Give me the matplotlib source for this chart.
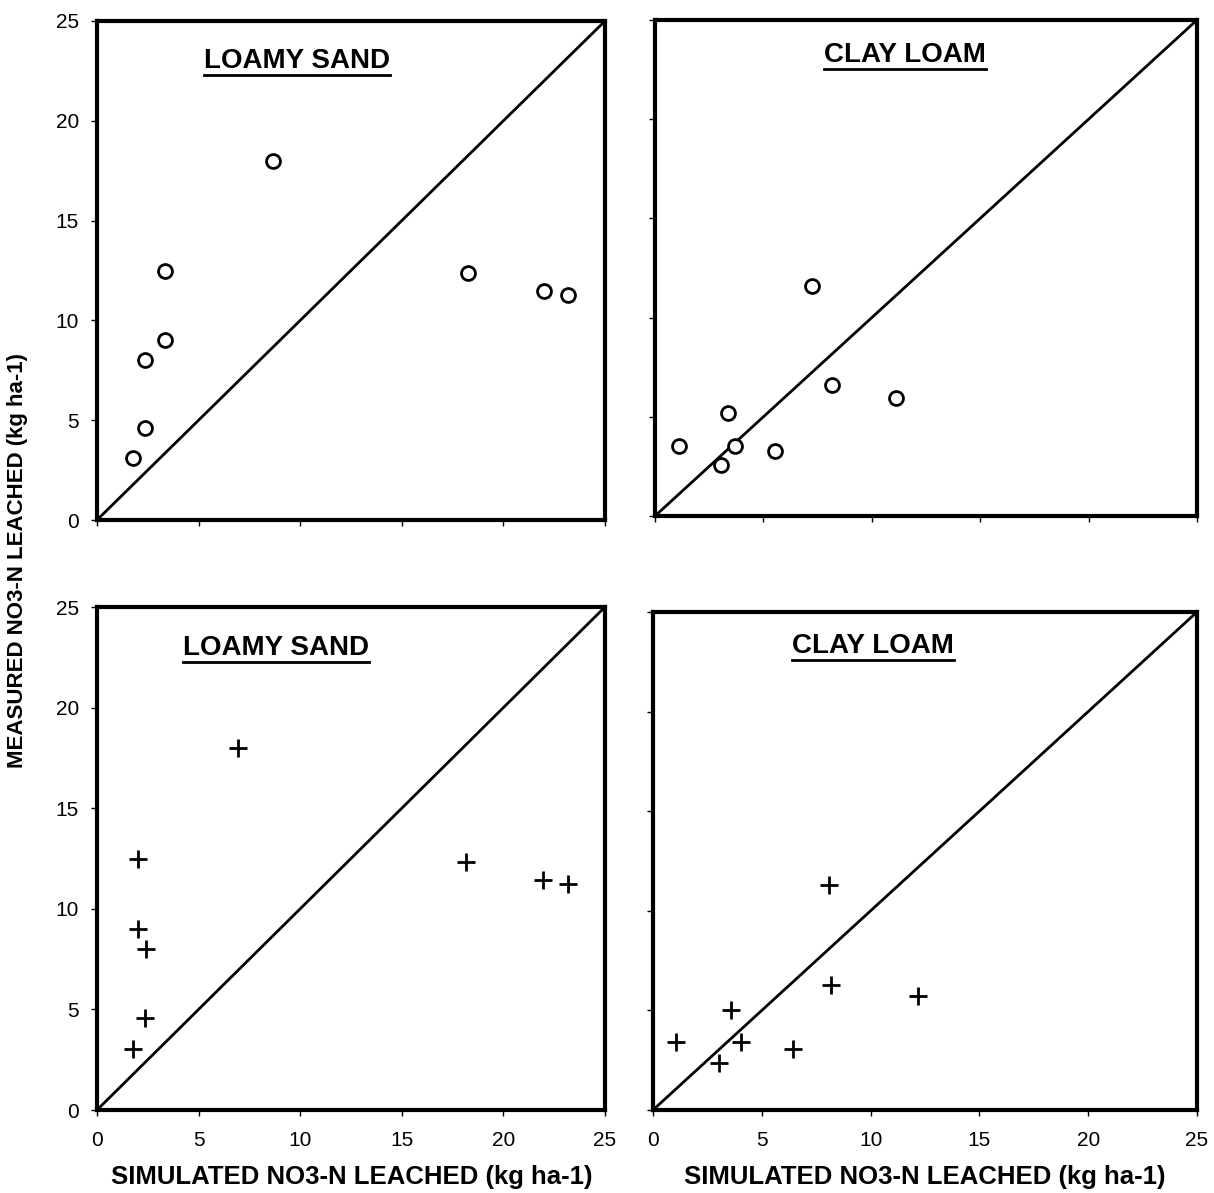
import matplotlib
matplotlib.use("Agg")
import matplotlib.pyplot as plt
from matplotlib.lines import Line2D

plt.rcParams['font.family'] = ['Liberation Sans', 'DejaVu Sans']

# ---- data ----
ls_sim_circ = [1.77, 2.36, 2.36, 3.35, 3.35, 8.66, 18.26, 22.0, 23.2]
ls_meas_circ = [3.1, 4.6, 8.0, 9.0, 12.5, 18.0, 12.35, 11.45, 11.25]

cl_sim_circ = [1.1, 3.04, 3.37, 3.69, 5.54, 7.24, 8.17, 11.1]
cl_meas_circ = [3.55, 2.55, 5.2, 3.55, 3.3, 11.6, 6.6, 5.95]

ls_sim_plus = [1.77, 2.36, 2.41, 2.0, 2.0, 6.94, 18.16, 21.95, 23.2]
ls_meas_plus = [3.05, 4.55, 8.0, 9.0, 12.5, 18.0, 12.35, 11.45, 11.25]

cl_sim_plus = [1.06, 3.03, 3.58, 4.04, 6.43, 8.09, 8.18, 12.18]
cl_meas_plus = [3.4, 2.35, 5.0, 3.4, 3.05, 11.3, 6.3, 5.7]

ticks = [0, 5, 10, 15, 20, 25]
titles = ["LOAMY SAND", "CLAY LOAM", "LOAMY SAND", "CLAY LOAM"]
xlabel = "SIMULATED NO3-N LEACHED (kg ha-1)"
ylabel = "MEASURED NO3-N LEACHED (kg ha-1)"

W, H = 1214, 1193
fig = plt.figure(figsize=(W / 100, H / 100), dpi=100)

def rect(l, r, t, b):
    return [l / W, 1 - b / H, (r - l) / W, (b - t) / H]

axes_px = [(97, 605, 21, 520), (655, 1197, 20, 516),
           (97, 605, 607, 1110), (653, 1197, 612, 1110)]
series = [(ls_sim_circ, ls_meas_circ, 'o'), (cl_sim_circ, cl_meas_circ, 'o'),
          (ls_sim_plus, ls_meas_plus, '+'), (cl_sim_plus, cl_meas_plus, '+')]
title_pos = [(0.394, 0.905), (0.461, 0.915), (0.352, 0.905), (0.404, 0.918)]

axes = []
for i, (px, (xs, ys, m), tp) in enumerate(zip(axes_px, series, title_pos)):
    ax = fig.add_axes(rect(*px))
    axes.append(ax)
    ax.set_xlim(0, 25)
    ax.set_ylim(0, 25)
    ax.set_xticks(ticks)
    ax.set_yticks(ticks)
    for s in ax.spines.values():
        s.set_linewidth(3)
    ax.plot([0, 25], [0, 25], color='black', lw=2)
    if m == 'o':
        ax.plot(xs, ys, linestyle='none', marker='o', ms=10, mfc='white',
                mec='black', mew=2)
    else:
        ax.plot(xs, ys, linestyle='none', marker='+', ms=13, mec='black', mew=2)
    ax.tick_params(direction='out', length=4, width=1, labelsize=15, pad=9)
    if i in (1, 3):
        ax.set_yticklabels([])
    if i in (0, 1):
        ax.set_xticklabels([])
    if i in (2, 3):
        ax.tick_params(axis='x', pad=11)
    ax.text(tp[0], tp[1], titles[i], transform=ax.transAxes, ha='center',
            va='baseline', fontsize=20, fontweight='bold')

fig.text(18 / W, 1 - 560 / H, ylabel, rotation=90, ha='center', va='center',
         fontsize=16, fontweight='bold')
fig.text(352 / W, 1 - 1177 / H, xlabel, ha='center', va='center',
         fontsize=18.5, fontweight='bold')
fig.text(925 / W, 1 - 1177 / H, xlabel, ha='center', va='center',
         fontsize=18.5, fontweight='bold')

# underline titles
fig.canvas.draw()
renderer = fig.canvas.get_renderer()
inv = fig.transFigure.inverted()
for ax in axes:
    for t in ax.texts:
        bb = t.get_window_extent(renderer)
        (x0, y0), (x1, y1) = inv.transform([[bb.x0, bb.y0 - 1], [bb.x1, bb.y0 - 1]])
        fig.add_artist(Line2D([x0, x1], [y0, y1], transform=fig.transFigure,
                              color='black', lw=2))

fig.savefig("out.png", dpi=100, facecolor='white')
